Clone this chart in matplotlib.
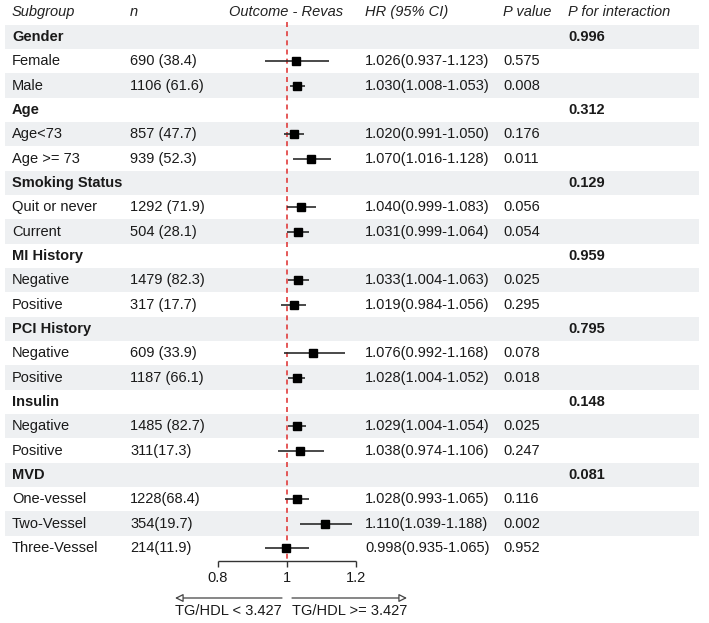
#!/usr/bin/env python3
"""
Forest plot: Outcome - Revas by subgroup (TG/HDL)
"""

import matplotlib
matplotlib.use('Agg')
import matplotlib.pyplot as plt
import numpy as np

plt.rcParams['font.family'] = ['Liberation Sans', 'DejaVu Sans']

# --- data ---
labels = ['Gender', 'Female', 'Male',
          'Age', 'Age<73', 'Age >= 73',
          'Smoking Status', 'Quit or never', 'Current',
          'MI History', 'Negative', 'Positive',
          'PCI History', 'Negative', 'Positive',
          'Insulin', 'Negative', 'Positive',
          'MVD', 'One-vessel', 'Two-Vessel', 'Three-Vessel']
is_group = [True, False, False,
            True, False, False,
            True, False, False,
            True, False, False,
            True, False, False,
            True, False, False,
            True, False, False, False]
n_text = ['', '690 (38.4)', '1106 (61.6)',
          '', '857 (47.7)', '939 (52.3)',
          '', '1292 (71.9)', '504 (28.1)',
          '', '1479 (82.3)', '317 (17.7)',
          '', '609 (33.9)', '1187 (66.1)',
          '', '1485 (82.7)', '311(17.3)',
          '', '1228(68.4)', '354(19.7)', '214(11.9)']
hr = [np.nan, 1.026, 1.030,
      np.nan, 1.020, 1.070,
      np.nan, 1.040, 1.031,
      np.nan, 1.033, 1.019,
      np.nan, 1.076, 1.028,
      np.nan, 1.029, 1.038,
      np.nan, 1.028, 1.110, 0.998]
lo = [np.nan, 0.937, 1.008,
      np.nan, 0.991, 1.016,
      np.nan, 0.999, 0.999,
      np.nan, 1.004, 0.984,
      np.nan, 0.992, 1.004,
      np.nan, 1.004, 0.974,
      np.nan, 0.993, 1.039, 0.935]
hi = [np.nan, 1.123, 1.053,
      np.nan, 1.050, 1.128,
      np.nan, 1.083, 1.064,
      np.nan, 1.063, 1.056,
      np.nan, 1.168, 1.052,
      np.nan, 1.054, 1.106,
      np.nan, 1.065, 1.188, 1.065]
p_value = ['', '0.575', '0.008',
           '', '0.176', '0.011',
           '', '0.056', '0.054',
           '', '0.025', '0.295',
           '', '0.078', '0.018',
           '', '0.025', '0.247',
           '', '0.116', '0.002', '0.952']
p_inter = ['0.996', '', '',
           '0.312', '', '',
           '0.129', '', '',
           '0.959', '', '',
           '0.795', '', '',
           '0.148', '', '',
           '0.081', '', '', '']
headers = ['Subgroup', 'n', 'Outcome - Revas', 'HR (95% CI)', 'P value', 'P for interaction']
ticks = [0.8, 1.0, 1.2]
tick_labels = ['0.8', '1', '1.2']
arrow_left = 'TG/HDL < 3.427'
arrow_right = 'TG/HDL >= 3.427'

# --- layout (pixels of a 709x623 canvas) ---
W, H = 709, 623
fig = plt.figure(figsize=(7.09, 6.23), dpi=100)
ax = fig.add_axes([0, 0, 1, 1])
ax.axis('off')

x_one, px_per_unit = 287, 345.0
ax.set_xlim(1 - x_one / px_per_unit, 1 + (W - x_one) / px_per_unit)
row0, row_h = 37, 24.33
ax.set_ylim((H - row0) / row_h, -row0 / row_h)

def py(p):
    return (p - row0) / row_h

trans = ax.get_yaxis_transform()  # x in axes fraction, y in data
col_x = [12, 130, 286, 365, 503, 568]
fs = 10.5

# header row
y_head = py(12)
for i, (h, x) in enumerate(zip(headers, col_x)):
    ha = 'center' if i == 2 else 'left'
    ax.text(x / W, y_head, h, transform=trans, ha=ha, va='center',
            fontsize=fs, style='italic', color='#222222')

rows = np.arange(len(labels))

# shaded bands
for i in rows:
    if i % 2 == 0:
        ax.axhspan(i - 0.5, i + 0.5, xmin=5 / W, xmax=699 / W,
                   color='#EEF0F2', lw=0, zorder=0)

# reference line
ax.plot([1, 1], [py(22), py(561)], color='#E03C3C', lw=1.2,
        ls=(0, (3, 2.5)), zorder=1)

# text columns
for i in rows:
    weight = 'bold' if is_group[i] else 'normal'
    ax.text(col_x[0] / W, i, labels[i], transform=trans, ha='left', va='center',
            fontsize=fs, fontweight=weight, color='#1a1a1a')
    ax.text(col_x[1] / W, i, n_text[i], transform=trans, ha='left', va='center',
            fontsize=fs, color='#1a1a1a')
    if not np.isnan(hr[i]):
        ax.text(col_x[3] / W, i, f'{hr[i]:.3f}({lo[i]:.3f}-{hi[i]:.3f})',
                transform=trans, ha='left', va='center', fontsize=fs, color='#1a1a1a')
    ax.text(col_x[4] / W, i, p_value[i], transform=trans, ha='left', va='center',
            fontsize=fs, color='#1a1a1a')
    ax.text(col_x[5] / W, i, p_inter[i], transform=trans, ha='left', va='center',
            fontsize=fs, fontweight='bold', color='#1a1a1a')

# CI lines and boxes
hr_a, lo_a, hi_a = np.array(hr), np.array(lo), np.array(hi)
ok = ~np.isnan(hr_a)
ax.hlines(rows[ok], lo_a[ok], hi_a[ok], color='#2a2a2a', lw=1.2, zorder=2)
ax.plot(hr_a[ok], rows[ok], 's', color='black', markersize=5.5, zorder=3)

# x axis
y_ax = py(561)
ax.plot([ticks[0], ticks[-1]], [y_ax, y_ax], color='#333333', lw=1.0, solid_capstyle='butt')
ax.vlines(ticks, y_ax, py(567), color='#333333', lw=1.0)
for t, tl in zip(ticks, tick_labels):
    ax.text(t, py(578), tl, ha='center', va='center', fontsize=fs, color='#1a1a1a')

# direction arrows
y_arr = py(598)
gap = 5 / px_per_unit
ax.annotate('', xy=(1 - 112 / px_per_unit, y_arr), xytext=(1 - gap, y_arr),
            arrowprops=dict(arrowstyle='-|>', color='#444444', fc='white', lw=0.9,
                            mutation_scale=12, shrinkA=0, shrinkB=0))
ax.annotate('', xy=(1 + 120 / px_per_unit, y_arr), xytext=(1 + gap, y_arr),
            arrowprops=dict(arrowstyle='-|>', color='#444444', fc='white', lw=0.9,
                            mutation_scale=12, shrinkA=0, shrinkB=0))
ax.text(1 - gap, py(611), arrow_left, ha='right', va='center', fontsize=fs, color='#1a1a1a')
ax.text(1 + gap, py(611), arrow_right, ha='left', va='center', fontsize=fs, color='#1a1a1a')

fig.savefig('out.png', dpi=100)
